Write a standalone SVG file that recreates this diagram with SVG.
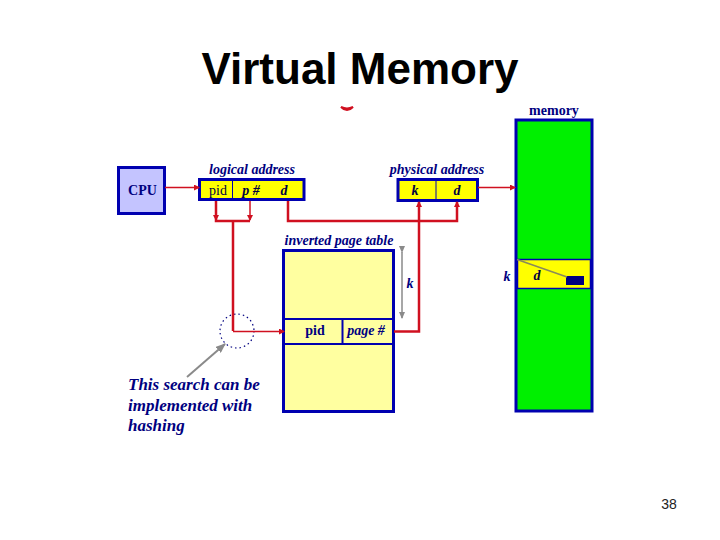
<svg xmlns="http://www.w3.org/2000/svg" width="720" height="540" viewBox="0 0 720 540">
<style>
.b{stroke:#0000b0;stroke-width:3;}
.t{stroke:#0000b0;stroke-width:2;fill:none;}
.r{stroke:#d01020;stroke-width:2.500;fill:none;}
.r1{stroke:#d01020;stroke-width:1.500;fill:none;}
.g{stroke:#8a8a8a;stroke-width:1.500;fill:none;}
.s{font-family:"Liberation Serif",serif;fill:#000080;}
.i{font-style:italic;font-weight:bold;font-size:14px;}
.k{font-family:"Liberation Serif",serif;font-size:14px;font-style:italic;font-weight:bold;text-anchor:middle;fill:#000040;}
.h{font-family:"Liberation Sans",Arial,sans-serif;}
</style>
<defs>
<marker id="ar" markerWidth="6" markerHeight="6" refX="5" refY="3" orient="auto" markerUnits="userSpaceOnUse"><path d="M0 0L6 3L0 6z" fill="#d01020"/></marker>
<marker id="ag" markerWidth="7" markerHeight="6" refX="6" refY="3" orient="auto" markerUnits="userSpaceOnUse"><path d="M0 0L7 3L0 6z" fill="#8a8a8a"/></marker>
<marker id="ag2" markerWidth="10" markerHeight="8" refX="9" refY="4" orient="auto" markerUnits="userSpaceOnUse"><path d="M0 0L10 4L0 8z" fill="#8a8a8a"/></marker>
</defs>
<rect width="720" height="540" fill="#fff"/>
<text class="h" x="360" y="84" font-size="44" font-weight="bold" text-anchor="middle" fill="#000">Virtual Memory</text>
<text class="h" x="669" y="509" font-size="14" text-anchor="middle" fill="#222">38</text>
<path d="M341 107Q347 113 353 107Q347 110 341 107z" fill="#d01020" stroke="#d01020" stroke-width="2"/>
<g id="cpu"><rect class="b" x="118.500" y="167.500" width="46" height="46" fill="#c4c4ff"/><text class="s" x="142.500" y="195" font-size="14" font-weight="bold" text-anchor="middle">CPU</text></g>
<g id="logical-address"><rect class="b" x="199.500" y="179.500" width="104.500" height="20" fill="#ffff00"/><path class="t" style="stroke-width:1" d="M232.500 180V200"/>
<text class="s i" x="252" y="174" text-anchor="middle">logical address</text>
<text x="218" y="195" font-size="14" text-anchor="middle" font-family="Liberation Serif,serif" fill="#000040">pid</text>
<text class="k" x="251" y="195">p #</text>
<text class="k" x="284" y="195">d</text></g>
<g id="physical-address"><rect class="b" x="398" y="179.500" width="79.500" height="21" fill="#ffff00"/><path class="t" style="stroke-width:1" d="M436 180V200"/>
<text class="s i" x="437" y="174" text-anchor="middle">physical address</text>
<text class="k" x="415" y="195">k</text>
<text class="k" x="457" y="195">d</text></g>
<g id="memory"><rect class="b" x="516" y="120" width="76" height="291" fill="#00f000"/><rect x="517.500" y="259.500" width="73" height="29" fill="#ffff00" stroke="#0000b0" stroke-width="1.500"/>
<text class="s" x="554" y="115" font-size="14" font-weight="bold" text-anchor="middle">memory</text>
<text class="s i" x="507" y="281" text-anchor="middle">k</text>
<text class="k" x="537" y="280">d</text>
<rect x="566" y="276" width="18" height="9" fill="#000080"/>
<path d="M517 259.500L567 277" stroke="#8a8a5a" stroke-width="1.500" fill="none"/></g>
<g id="inverted-page-table"><rect class="b" x="283.500" y="250.500" width="110" height="161" fill="#ffffa0"/><rect x="284" y="319" width="109" height="25" fill="#ffffa0" stroke="#0000b0" stroke-width="2"/><path class="t" d="M342.500 319V344"/>
<text class="s i" x="339" y="245" text-anchor="middle">inverted page table</text>
<text class="s" x="315" y="335" font-size="14" font-weight="bold" text-anchor="middle">pid</text>
<text class="s i" x="366" y="335" text-anchor="middle">page #</text>
<text class="s i" x="410" y="288" text-anchor="middle">k</text></g>
<g id="search-note"><circle cx="237" cy="331" r="17" fill="none" stroke="#000080" stroke-width="1.200" stroke-dasharray="1.500 3"/>
<text class="s" font-size="17" font-weight="bold" font-style="italic"><tspan x="128" y="390">This search can be</tspan><tspan x="128" y="411">implemented with</tspan><tspan x="128" y="431">hashing</tspan></text></g>
<g id="connectors">
<path class="r1" d="M165 187.500H199" marker-end="url(#ar)"/>
<path class="r" d="M216 201V221H250M233 221V331"/>
<path class="r1" d="M233 331.500H284" marker-end="url(#ar)"/>
<path class="r" d="M288 201V221H457V202" marker-end="url(#ar)"/>
<path class="r" d="M394 331.500H419V202" marker-end="url(#ar)"/>
<path class="r1" d="M216 201V220" marker-end="url(#ar)"/>
<path class="r1" d="M250 201V220" marker-end="url(#ar)"/>
<path class="r1" d="M478 187.500H515" marker-end="url(#ar)"/>
<path class="g" d="M402 252V318" marker-start="url(#ag)" marker-end="url(#ag)"/>
<path class="g" style="stroke-width:2" d="M187 377L225 344" marker-end="url(#ag2)"/>
</g>
</svg>
